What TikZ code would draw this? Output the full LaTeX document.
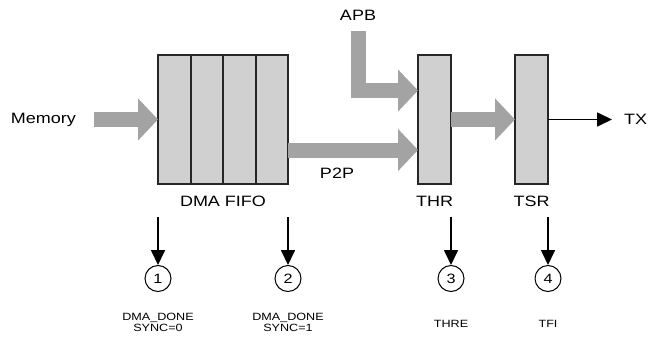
\documentclass[tikz,border=0pt]{standalone}
\usepackage{fontspec}
\setmainfont[FakeStretch=1.2]{Liberation Sans}
\usepackage{xcolor}
\usepackage{tikz}
\usetikzlibrary{positioning,arrows.meta,backgrounds}
\definecolor{ink}{HTML}{262626}
\definecolor{regfill}{HTML}{D0D0D0}
\definecolor{pipe}{HTML}{A3A3A3}

\begin{document}
\begin{tikzpicture}[x=1pt,y=-1pt,
   reg/.style={draw=ink,line width=1.9pt,fill=regfill,outer sep=0pt,inner sep=0pt,
     minimum width=33pt,minimum height=129pt},
   slot/.style={reg,fill=none,minimum width=#1},
   fat/.style={draw=pipe,line width=15pt,line join=miter,-{Triangle[length=20pt,width=41pt]}},
   thin/.style={draw=black,line width=1.7pt,-{Triangle[length=15pt,width=14pt]}},
   evt/.style={circle,draw=black,line width=1pt,minimum size=26pt,inner sep=0pt,
     font=\fontsize{13.5}{14}\selectfont},
   lbl/.style={inner sep=0pt,font=\fontsize{15}{17}\selectfont},
   tag/.style={inner sep=0pt,align=center,font=\fontsize{10.5}{11}\selectfont}]
 \useasboundingbox (0,0) rectangle (660,337);
 \node[slot=33pt] (f1) at (174.5,119.5) {};
 \node[slot=32pt,right=0pt of f1] (f2) {};
 \node[slot=33pt,right=0pt of f2] (f3) {};
 \node[slot=32pt,right=0pt of f3] (f4) {};
 \begin{scope}[on background layer]
  \fill[regfill] (f1.north west) rectangle (f4.south east);
 \end{scope}
 \node[reg] (thr) at (434.5,119.5) {};
 \node[reg] (tsr) at (531.5,119.5) {};
 \node[lbl,left=82pt of f1] (mem) {Memory};
 \node[lbl] (apb) at (358,15) {APB};
 \node[lbl] (p2p) at (337,173) {P2P};
 \node[lbl,right=76pt of tsr] (tx) {TX};
 \node[lbl,below=12pt of f2.south east] (fifo) {DMA FIFO};
 \node[lbl,below=12pt of thr.south] (thrl) {THR};
 \node[lbl,below=12pt of tsr.south] (tsrl) {TSR};
 \node[evt,below=81pt of f1.south west] (c1) {1};
 \node[evt,below=81pt of f4.south east] (c2) {2};
 \node[evt,below=81pt of thr.south east] (c3) {3};
 \node[evt,below=81pt of tsr.south east] (c4) {4};
 \node[tag,below=21pt of c1] (l1) {DMA\_DONE\\SYNC=0};
 \node[tag,below=21pt of c2] (l2) {DMA\_DONE\\SYNC=1};
 \node[tag,below=28pt of c3] (l3) {THRE};
 \node[tag,below=28pt of c4] (l4) {TFI};
 \draw[fat] ([xshift=18pt]mem.east) -- (f1.west);
 \draw[fat] ([yshift=-30.5pt]f4.east) -- ([yshift=-30.5pt]thr.west);
 \draw[fat] ([yshift=-11pt]apb.south) |- ([yshift=29pt]thr.west);
 \draw[fat] (thr.east) -- (tsr.west);
 \draw[thin] (tsr.east) -- ([xshift=-12pt]tx.west);
 \draw[thin] ([yshift=-33pt]f1.south west) -- (c1);
 \draw[thin] ([yshift=-33pt]f4.south east) -- (c2);
 \draw[thin] ([yshift=-33pt]thr.south east) -- (c3);
 \draw[thin] ([yshift=-33pt]tsr.south east) -- (c4);
\end{tikzpicture}
\end{document}
